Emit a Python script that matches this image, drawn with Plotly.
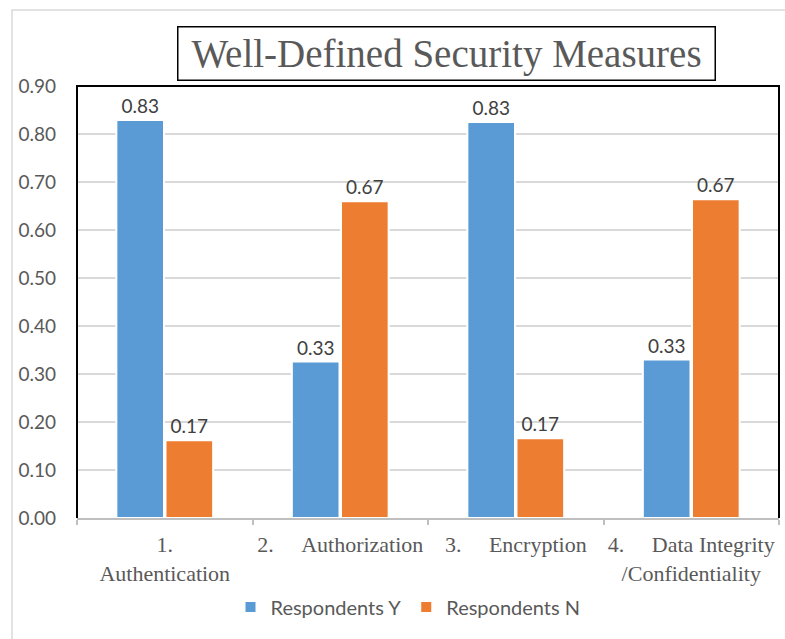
import plotly.graph_objects as go

# ---- data ----
categories = ["1. Authentication", "2. Authorization", "3. Encryption",
              "4. Data Integrity /Confidentiality"]
tick_labels = [
    "1.<br>Authentication",
    "2.\u00a0\u00a0\u00a0\u00a0\u00a0Authorization",
    "3.\u00a0\u00a0\u00a0\u00a0\u00a0Encryption",
    "4.\u00a0\u00a0\u00a0\u00a0\u00a0Data Integrity<br>/Confidentiality",
]
series_names = ["Respondents Y", "Respondents N"]
values_y = [0.829, 0.326, 0.825, 0.330]
values_n = [0.162, 0.660, 0.166, 0.664]
labels_y = ["0.83", "0.33", "0.83", "0.33"]
labels_n = ["0.17", "0.67", "0.17", "0.67"]
y_ticks = [0.0, 0.1, 0.2, 0.3, 0.4, 0.5, 0.6, 0.7, 0.8, 0.9]

BLUE = "#5B9BD5"
ORANGE = "#ED7D31"
GRAY_TXT = "#595959"
SANS = "Lato, Open Sans, sans-serif"
SERIF = "Liberation Serif, Times New Roman, serif"

fig = go.Figure()
for name, vals, labs, col in [(series_names[0], values_y, labels_y, BLUE),
                              (series_names[1], values_n, labels_n, ORANGE)]:
    fig.add_trace(go.Bar(
        x=categories, y=vals, name=name,
        marker=dict(color=col, line=dict(color="white", width=2)),
        text=labs, textposition="outside", cliponaxis=False,
        textfont=dict(family=SANS, size=19, color="#404040"),
    ))

W, H = 785, 639
ML, MR, MT, MB = 77, 6, 86, 121
pw, ph = W - ML - MR, H - MT - MB

def px_x(x):
    return (x - ML) / pw

def px_y(y):
    return (H - MB - y) / ph

fig.update_layout(
    width=W, height=H,
    margin=dict(l=ML, r=MR, t=MT, b=MB, autoexpand=False),
    paper_bgcolor="white", plot_bgcolor="white",
    barmode="group", bargap=0.44, bargroupgap=0.03,
    showlegend=True,
    legend=dict(orientation="h", x=px_x(408), y=px_y(607),
                xanchor="center", yanchor="middle",
                font=dict(family=SANS, size=20, color=GRAY_TXT)),
    xaxis=dict(
        tickmode="array", tickvals=categories, ticktext=tick_labels,
        tickson="boundaries", ticks="outside", ticklen=5, tickangle=0,
        automargin=False,
        tickcolor="#BFBFBF", tickwidth=1.5,
        showline=True, linecolor="#BFBFBF", linewidth=1.5,
        showgrid=False, layer="below traces", ticklabelstandoff=6,
        tickfont=dict(family=SERIF, size=22, color=GRAY_TXT),
    ),
    yaxis=dict(
        range=[0, 0.9], tickmode="array", tickvals=y_ticks, automargin=False,
        tickformat=".2f", showgrid=True, gridcolor="#D9D9D9", gridwidth=1.5,
        zeroline=False, showline=False, ticklabelstandoff=20,
        tickfont=dict(family=SANS, size=19, color=GRAY_TXT),
    ),
    shapes=[
        dict(type="rect", xref="paper", yref="paper",
             x0=px_x(12), x1=1.2, y0=-0.6, y1=px_y(10),
             line=dict(color="#D9D9D9", width=1.5)),
        dict(type="path", xref="paper", yref="paper",
             path="M 0,0 L 0,1 L 1,1 L 1,0",
             line=dict(color="black", width=2)),
    ],
    annotations=[
        dict(text="Well-Defined Security Measures", xref="paper", yref="paper",
             x=px_x(446), y=px_y(54), xanchor="center", yanchor="middle",
             showarrow=False, width=534, height=50, borderpad=1,
             bordercolor="black", borderwidth=1.5, bgcolor="white",
             font=dict(family=SERIF, size=39, color=GRAY_TXT)),
    ],
)

fig.write_html("out.html")
